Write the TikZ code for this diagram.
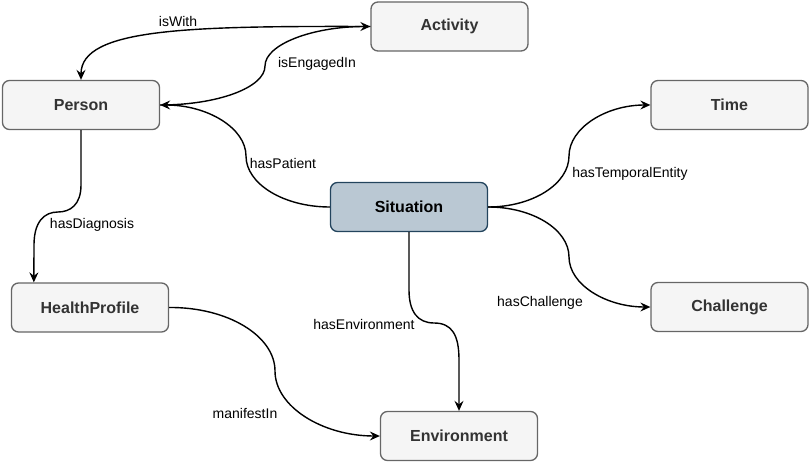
\documentclass[tikz,border=0pt]{standalone}
\usepackage{fontspec}
\setmainfont{Liberation Sans}
\usetikzlibrary{arrows.meta}
\definecolor{boxfill}{HTML}{F5F5F5}
\definecolor{boxline}{HTML}{666666}
\definecolor{boxtext}{HTML}{333333}
\definecolor{sitfill}{HTML}{BAC8D3}
\definecolor{sitline}{HTML}{23445D}
\begin{document}
\begin{tikzpicture}[x=1pt,y=-1pt,
  entity/.style={draw=boxline, fill=boxfill, line width=1.3pt, rounded corners=7pt,
    minimum width=157pt, minimum height=49pt, inner sep=0pt,
    font=\fontsize{16}{18}\selectfont\bfseries, text=boxtext},
  central/.style={entity, draw=sitline, fill=sitfill, text=black},
  rel/.style={line width=1.4pt, -{Stealth[length=10pt,width=9pt,inset=3.5pt]}},
  lbl/.style={font=\fontsize{14}{16}\selectfont, inner sep=0pt, text=black}]
\useasboundingbox (0,0) rectangle (810,462);

\node[entity]  (A) at (449.5,26.5) {Activity};
\node[entity]  (P) at (81,105) {Person};
\node[entity]  (T) at (729.5,105) {Time};
\node[central] (S) at (409,207) {Situation};
\node[entity]  (H) at (90,307.5) {HealthProfile};
\node[entity]  (C) at (729.5,307) {Challenge};
\node[entity]  (E) at (459,436) {Environment};

% isWith
\draw[rel] (A.west) .. controls (190,26) and (81,28) .. (P.north);
% isEngagedIn
\draw[rel] (P.east) .. controls (217.75,105) and (265,87.5) .. (265,66)
  .. controls (265,44.3) and (312.7,26.5) .. (A.west);
% hasPatient
\draw[rel] (S.west) .. controls (283.8,207) and (246,184) .. (246,156)
  .. controls (246,128) and (207.3,105) .. (P.east);
% hasTemporalEntity
\draw[rel] (S.east) .. controls (532.5,207) and (569,184) .. (569,156)
  .. controls (569,128) and (606,105) .. (T.west);
% hasChallenge
\draw[rel] (S.east) .. controls (532.5,207) and (569,229.5) .. (569,257)
  .. controls (569,284.5) and (606,307) .. (C.west);
% hasEnvironment
\draw[rel] (S.south) -- (409,290) .. controls (409,312) and (418,323) .. (434,323)
  .. controls (452,323) and (459,335) .. (459,360) -- (E.north);
% hasDiagnosis
\draw[rel] (P.south) -- (81,185) .. controls (81,205) and (70,212) .. (58,212)
  .. controls (44,212) and (34,222) .. (34,245) -- ([xshift=23pt]H.north west);
% manifestIn
\draw[rel] (H.east) .. controls (227.75,307) and (275,336) .. (275,371)
  .. controls (275,406.5) and (322.25,436) .. (E.west);

\node[lbl] (l1) at (178,22) {isWith};
\node[lbl] (l2) at (317,64) {isEngagedIn};
\node[lbl] (l3) at (283,163) {hasPatient};
\node[lbl] (l4) at (630,174) {hasTemporalEntity};
\node[lbl] (l5) at (540,303) {hasChallenge};
\node[lbl] (l6) at (364,324) {hasEnvironment};
\node[lbl] (l7) at (92,225) {hasDiagnosis};
\node[lbl] (l8) at (245,413) {manifestIn};
\end{tikzpicture}
\end{document}
